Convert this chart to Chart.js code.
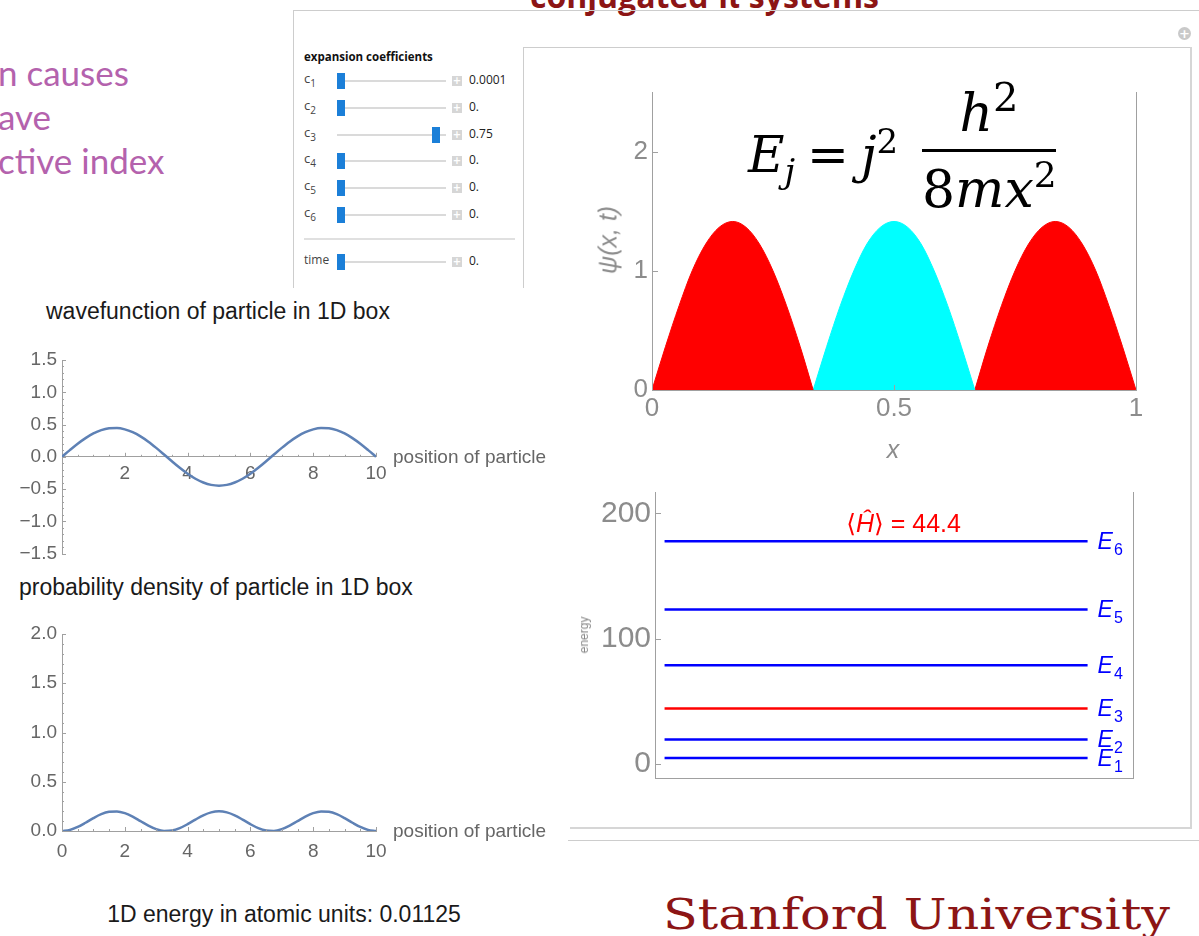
<!DOCTYPE html>
<html lang="en">
<head>
<meta charset="utf-8">
<title>Particle in a 1D box</title>
<script src="https://cdn.jsdelivr.net/npm/chart.js@4.4.1/dist/chart.umd.min.js"></script>
<style>
  html, body { margin: 0; padding: 0; background: #fff; }
  body { position: relative; width: 1199px; height: 936px; overflow: hidden;
         font-family: "Liberation Sans", Arial, sans-serif; }
  .t { position: absolute; white-space: nowrap; line-height: 1; }
  .rule { position: absolute; background: #cdcdcd; }
  canvas { position: absolute; }
  .ctl { position: absolute; font-family: "Open Sans", sans-serif; white-space: nowrap; line-height: 1; }
</style>
</head>
<body>

<!-- slide heading and side text -->
<div class="t" style="left:530px;top:-26px;font:700 32px 'Open Sans';color:#8c1515">conjugated π systems</div>
<div class="t" style="left:-2px;top:51px;font:35px Lato;color:#b462ad">n causes</div>
<div class="t" style="left:-2px;top:95px;font:35px Lato;color:#b462ad">ave</div>
<div class="t" style="left:-2px;top:139px;font:35px Lato;color:#b462ad">ctive index</div>

<!-- panel frames -->
<div class="rule" style="left:293px;top:10px;width:906px;height:1px"></div>
<div class="rule" style="left:293px;top:10px;width:1px;height:278px"></div>
<div class="rule" style="left:568px;top:840px;width:631px;height:1px"></div>
<div class="rule" style="left:523px;top:47px;width:668px;height:1px"></div>
<div class="rule" style="left:523px;top:47px;width:1px;height:241px"></div>
<div class="rule" style="left:1190px;top:47px;width:2px;height:782px;background:#d6d6d6"></div>
<div class="rule" style="left:570px;top:827px;width:622px;height:2px;background:#d6d6d6"></div>
<div class="t" style="left:1178px;top:27px;width:13px;height:13px;border-radius:50%;background:#c9c9c9;color:#fff;font:700 13px 'DejaVu Sans';text-align:center;line-height:13px">+</div>

<div class="ctl" style="left:304px;top:51px;font-size:11.5px;font-weight:700;color:#111">expansion coefficients</div>
<div class="rule" style="left:304px;top:238px;width:211px;height:2px;background:#e0e0e0"></div>

<!-- charts -->
<canvas id="waveChart" width="560" height="230" style="left:0;top:340px"></canvas>
<canvas id="densityChart" width="560" height="290" style="left:0;top:610px"></canvas>
<canvas id="boxChart" width="600" height="400" style="left:570px;top:70px"></canvas>
<canvas id="levelChart" width="620" height="330" style="left:570px;top:470px"></canvas>

<!-- chart titles and axis captions -->
<div class="t" style="left:46px;top:300px;font-size:23px;color:#1a1a1a">wavefunction of particle in 1D box</div>
<div class="t" style="left:393px;top:447px;font-size:19px;color:#666">position of particle</div>
<div class="t" style="left:19px;top:576px;font-size:23px;color:#1a1a1a">probability density of particle in 1D box</div>
<div class="t" style="left:393px;top:821px;font-size:19px;color:#666">position of particle</div>
<div class="t" style="left:84px;top:903px;width:400px;text-align:center;font-size:23px;color:#1a1a1a">1D energy in atomic units: 0.01125</div>

<div class="t" style="left:608px;top:240px;transform:translate(-50%,-50%) rotate(-90deg);font:italic 25px 'Liberation Sans';color:#8c8c8c">ψ(x, t)</div>
<div class="t" style="left:893px;top:449px;transform:translate(-50%,-50%);font:italic 25px 'Liberation Sans';color:#8c8c8c">x</div>
<div class="t" style="left:584px;top:635px;transform:translate(-50%,-50%) rotate(-90deg);font:12px 'Liberation Sans';color:#888">energy</div>

<!-- energy formula -->
<div class="t" style="left:748px;top:126px;font:50px 'DejaVu Serif';color:#000"><i>E</i><i style="font-size:34px;position:relative;top:11px">j</i><span style="margin:0 12px">=</span><i>j</i><span style="font-size:34px;position:relative;top:-19px">2</span></div>
<div class="t" style="left:922px;top:83px;width:134px;text-align:center;font:52px 'DejaVu Serif';color:#000"><i>h</i><span style="font-size:40px;position:relative;top:-20px">2</span></div>
<div class="rule" style="left:922px;top:149px;width:134px;height:3px;background:#000"></div>
<div class="t" style="left:922px;top:159px;width:134px;text-align:center;font:52px 'DejaVu Serif';color:#000">8<i>mx</i><span style="font-size:36px;position:relative;top:-20px">2</span></div>

<div class="t" style="left:663px;top:890px;font:42px 'DejaVu Serif';color:#8c1515;transform:scaleX(1.21);transform-origin:0 0">Stanford University</div>

<script>
// ---------------- data ----------------
// sample positions along the 10-bohr box
const positions = [0, 0.25, 0.5, 0.75, 1, 1.25, 1.5, 1.75, 2, 2.25, 2.5, 2.75, 3, 3.25, 3.5, 3.75,
  4, 4.25, 4.5, 4.75, 5, 5.25, 5.5, 5.75, 6, 6.25, 6.5, 6.75, 7, 7.25, 7.5, 7.75,
  8, 8.25, 8.5, 8.75, 9, 9.25, 9.5, 9.75, 10];
// wavefunction of the particle
const waveValues = [0, 0.104, 0.203, 0.290, 0.362, 0.413, 0.441, 0.446, 0.425, 0.381, 0.316, 0.234,
  0.138, 0.035, -0.070, -0.171, -0.263, -0.340, -0.398, -0.435, -0.447, -0.435, -0.398, -0.340,
  -0.263, -0.171, -0.070, 0.035, 0.138, 0.234, 0.316, 0.381, 0.425, 0.446, 0.441, 0.413, 0.362,
  0.290, 0.203, 0.104, 0];
// probability density of the particle
const densityValues = [0, 0.011, 0.041, 0.084, 0.131, 0.171, 0.195, 0.199, 0.181, 0.145, 0.100, 0.055,
  0.019, 0.001, 0.005, 0.029, 0.069, 0.116, 0.159, 0.189, 0.200, 0.189, 0.159, 0.116, 0.069,
  0.029, 0.005, 0.001, 0.019, 0.055, 0.100, 0.145, 0.181, 0.199, 0.195, 0.171, 0.131, 0.084,
  0.041, 0.011, 0];
const waveXTicks = [2, 4, 6, 8, 10];
const waveYTicks = [-1.5, -1, -0.5, 0, 0.5, 1, 1.5];
const densityXTicks = [0, 2, 4, 6, 8, 10];
const densityYTicks = [0, 0.5, 1, 1.5, 2];

// |psi(x,t)| on the unit box, coloured by phase
const boxX = [0, 0.028, 0.056, 0.083, 0.111, 0.139, 0.167, 0.194, 0.222, 0.25, 0.278, 0.306, 0.333,
  0.361, 0.389, 0.417, 0.444, 0.472, 0.5, 0.528, 0.556, 0.583, 0.611, 0.639, 0.667,
  0.694, 0.722, 0.75, 0.778, 0.806, 0.833, 0.861, 0.889, 0.917, 0.944, 0.972, 1];
const boxAbsPsi = [0, 0.366, 0.707, 1.0, 1.225, 1.366, 1.414, 1.366, 1.225, 1.0, 0.707, 0.366,
  0, 0.366, 0.707, 1.0, 1.225, 1.366, 1.414, 1.366, 1.225, 1.0, 0.707, 0.366,
  0, 0.366, 0.707, 1.0, 1.225, 1.366, 1.414, 1.366, 1.225, 1.0, 0.707, 0.366, 0];
const boxNodes = [0, 12, 24, 36];
const lobeColors = ['#ff0000', '#00ffff', '#ff0000'];
const boxXTicks = [0, 0.5, 1];
const boxYTicks = [0, 1, 2];

// energy levels E_j
const levelIndex = [1, 2, 3, 4, 5, 6];
const levelEnergies = [4.93, 19.74, 44.41, 78.96, 123.37, 177.65];
const levelSpan = [0.02, 0.905];
const occupiedLevel = 3;
const energyTicks = [0, 100, 200];

// expansion coefficient sliders
const coeffNames = ['1', '2', '3', '4', '5', '6'];
const coeffValues = [0.0001, 0, 0.75, 0, 0, 0];
const coeffText = ['0.0001', '0.', '0.75', '0.', '0.', '0.'];
const timeValue = 0;
const timeText = '0.';

// ---------------- helpers ----------------
Chart.defaults.font.family = '"Liberation Sans", Arial, sans-serif';
const FRAME = '#a0a0a0';

function steps(from, to, step, skip) {
  const out = [];
  const n = Math.round((to - from) / step);
  for (let i = 0; i <= n; i++) {
    const v = +(from + i * step).toFixed(6);
    if (!skip || !skip.some(s => Math.abs(s - v) < 1e-6)) out.push(v);
  }
  return out;
}
const useTicks = list => scale => { scale.ticks = list.map(v => ({ value: v })); };
const fixWidth = w => scale => { scale.width = w; };
const fixHeight = h => scale => { scale.height = h; };
const minusFmt = d => v => (v < 0 ? '\u2212' : '') + Math.abs(v).toFixed(d);
const NO_GRID = { display: false, drawTicks: false };

// tick marks drawn inward from the axes, plus an optional right frame edge
const axisMarks = {
  id: 'axisMarks',
  afterDatasetsDraw(chart, _args, opts) {
    const { ctx, chartArea: a } = chart;
    ctx.save();
    ctx.strokeStyle = opts.color || FRAME;
    ctx.lineWidth = 1;
    ctx.beginPath();
    for (const m of opts.marks || []) {
      const s = chart.scales[m.scale];
      for (const v of m.values) {
        const p = Math.round(s.getPixelForValue(v)) + 0.5;
        if (s.isHorizontal()) {
          const y0 = m.atY === undefined ? a.bottom : chart.scales.y.getPixelForValue(m.atY);
          ctx.moveTo(p, y0); ctx.lineTo(p, y0 - m.len);
        } else {
          ctx.moveTo(a.left, p); ctx.lineTo(a.left + m.len, p);
        }
      }
    }
    if (opts.rightEdge) {
      const x = Math.round(a.right) + 0.5;
      ctx.moveTo(x, a.top); ctx.lineTo(x, a.bottom);
    }
    ctx.stroke();
    ctx.restore();
  }
};

// E_j tags at the end of each level and the expectation value caption
const levelTags = {
  id: 'levelTags',
  afterDatasetsDraw(chart, _args, opts) {
    const ctx = chart.ctx;
    ctx.save();
    ctx.textBaseline = 'alphabetic';
    chart.data.datasets.forEach((ds, i) => {
      const pts = chart.getDatasetMeta(i).data;
      const end = pts[pts.length - 1];
      const x = end.x + 10;
      ctx.fillStyle = '#0000ff';
      ctx.font = 'italic 23px "Liberation Sans"';
      ctx.fillText('E', x, end.y + 8);
      const w = ctx.measureText('E').width;
      ctx.font = '16px "Liberation Sans"';
      ctx.fillText(String(levelIndex[i]), x + w + 1, end.y + 14);
    });
    // caption above the highest level
    const topPts = chart.getDatasetMeta(chart.data.datasets.length - 1).data;
    const cy = topPts[0].y - 9;
    const parts = [
      ['\u27E8', '25px "DejaVu Sans"'],
      ['\u0124', 'italic 25px "Liberation Sans"'],
      ['\u27E9', '25px "DejaVu Sans"'],
      [' = ' + opts.value.toFixed(1), '25px "Liberation Sans"']
    ];
    let total = 0;
    parts.forEach(([s, f]) => { ctx.font = f; total += ctx.measureText(s).width; });
    let x = chart.scales.x.getPixelForValue(opts.centerX) - total / 2;
    ctx.fillStyle = '#ff0000';
    parts.forEach(([s, f]) => { ctx.font = f; ctx.fillText(s, x, cy); x += ctx.measureText(s).width; });
    ctx.restore();
  }
};

const base = {
  responsive: false,
  animation: false,
  devicePixelRatio: 1,
  events: []
};

// ---------------- wavefunction ----------------
new Chart(document.getElementById('waveChart'), {
  type: 'line',
  data: {
    datasets: [{
      data: positions.map((x, i) => ({ x, y: waveValues[i] })),
      borderColor: '#5e81b5', borderWidth: 2.5, pointRadius: 0,
      cubicInterpolationMode: 'monotone'
    }]
  },
  plugins: [axisMarks],
  options: Object.assign({}, base, {
    layout: { padding: { left: 7, right: 184, top: 20, bottom: 16 } },
    plugins: {
      legend: { display: false }, tooltip: { enabled: false },
      axisMarks: {
        marks: [
          { scale: 'x', values: waveXTicks, len: 4, atY: 0 },
          { scale: 'x', values: steps(0.5, 9.5, 0.5, waveXTicks), len: 2, atY: 0 },
          { scale: 'y', values: waveYTicks, len: 4 },
          { scale: 'y', values: steps(-1.4, 1.4, 0.1, waveYTicks), len: 2 }
        ]
      }
    },
    scales: {
      x: {
        type: 'linear', min: 0, max: 10, position: { y: 0 },
        afterFit: fixHeight(0), afterBuildTicks: useTicks(waveXTicks),
        grid: NO_GRID,
        border: { color: FRAME },
        ticks: { color: '#666', font: { size: 19 }, padding: 6, autoSkip: false, maxRotation: 0 }
      },
      y: {
        min: -1.5, max: 1.5,
        afterFit: fixWidth(55), afterBuildTicks: useTicks(waveYTicks),
        grid: NO_GRID,
        border: { color: FRAME },
        ticks: { color: '#666', font: { size: 19 }, padding: 5, callback: minusFmt(1) }
      }
    }
  })
});

// ---------------- probability density ----------------
new Chart(document.getElementById('densityChart'), {
  type: 'line',
  data: {
    datasets: [{
      data: positions.map((x, i) => ({ x, y: densityValues[i] })),
      borderColor: '#5e81b5', borderWidth: 2.5, pointRadius: 0,
      cubicInterpolationMode: 'monotone'
    }]
  },
  plugins: [axisMarks],
  options: Object.assign({}, base, {
    layout: { padding: { left: 7, right: 184, top: 24, bottom: 19 } },
    plugins: {
      legend: { display: false }, tooltip: { enabled: false },
      axisMarks: {
        marks: [
          { scale: 'x', values: densityXTicks, len: 4 },
          { scale: 'x', values: steps(0.5, 9.5, 0.5, densityXTicks), len: 2 },
          { scale: 'y', values: densityYTicks, len: 4 },
          { scale: 'y', values: steps(0.1, 1.9, 0.1, densityYTicks), len: 2 }
        ]
      }
    },
    scales: {
      x: {
        type: 'linear', min: 0, max: 10,
        afterFit: fixHeight(50), afterBuildTicks: useTicks(densityXTicks),
        grid: NO_GRID,
        border: { color: FRAME },
        ticks: { color: '#666', font: { size: 19 }, padding: 9, autoSkip: false, maxRotation: 0 }
      },
      y: {
        min: 0, max: 2,
        afterFit: fixWidth(55), afterBuildTicks: useTicks(densityYTicks),
        grid: NO_GRID,
        border: { color: FRAME },
        ticks: { color: '#666', font: { size: 19 }, padding: 5, callback: minusFmt(1) }
      }
    }
  })
});

// ---------------- |psi| with phase colouring ----------------
const lobes = lobeColors.map((color, k) => {
  const pts = [];
  for (let i = boxNodes[k]; i <= boxNodes[k + 1]; i++) pts.push({ x: boxX[i], y: boxAbsPsi[i] });
  return {
    data: pts, fill: 'origin', backgroundColor: color, borderColor: color,
    borderWidth: 1, pointRadius: 0, cubicInterpolationMode: 'monotone'
  };
});
new Chart(document.getElementById('boxChart'), {
  type: 'line',
  data: { datasets: lobes },
  plugins: [axisMarks],
  options: Object.assign({}, base, {
    layout: { padding: { left: 42, right: 34, top: 22, bottom: 40 } },
    plugins: {
      legend: { display: false }, tooltip: { enabled: false }, filler: { propagate: false },
      axisMarks: {
        rightEdge: true,
        marks: [
          { scale: 'x', values: boxXTicks, len: 5 },
          { scale: 'y', values: boxYTicks, len: 6 }
        ]
      }
    },
    scales: {
      x: {
        type: 'linear', min: 0, max: 1, z: 1,
        afterFit: fixHeight(40), afterBuildTicks: useTicks(boxXTicks),
        grid: NO_GRID,
        border: { color: FRAME },
        ticks: { color: '#8c8c8c', font: { size: 26 }, padding: 3, autoSkip: false, maxRotation: 0,
                 callback: v => String(v) }
      },
      y: {
        min: 0, max: 2.5, z: 1,
        afterFit: fixWidth(40), afterBuildTicks: useTicks(boxYTicks),
        grid: NO_GRID,
        border: { color: FRAME },
        ticks: { color: '#8c8c8c', font: { size: 26 }, padding: 4, callback: v => String(v) }
      }
    }
  })
});

// ---------------- energy levels ----------------
new Chart(document.getElementById('levelChart'), {
  type: 'line',
  data: {
    datasets: levelEnergies.map((e, i) => ({
      data: [{ x: levelSpan[0], y: e }, { x: levelSpan[1], y: e }],
      borderColor: levelIndex[i] === occupiedLevel ? '#ff0000' : '#0000ff',
      borderWidth: 2.5, pointRadius: 0
    }))
  },
  plugins: [axisMarks, levelTags],
  options: Object.assign({}, base, {
    layout: { padding: { left: 5, right: 57, top: 18, bottom: 19 } },
    plugins: {
      legend: { display: false }, tooltip: { enabled: false },
      axisMarks: {
        rightEdge: true,
        marks: [{ scale: 'y', values: energyTicks, len: 6 }]
      },
      levelTags: { value: levelEnergies[occupiedLevel - 1], centerX: 0.52 }
    },
    scales: {
      x: {
        type: 'linear', min: 0, max: 1,
        afterFit: fixHeight(0),
        grid: NO_GRID,
        border: { color: FRAME },
        ticks: { display: false }
      },
      y: {
        min: -11, max: 217,
        afterFit: fixWidth(80), afterBuildTicks: useTicks(energyTicks),
        grid: NO_GRID,
        border: { color: FRAME },
        ticks: { color: '#8c8c8c', font: { size: 30 }, padding: 4 }
      }
    }
  })
});

// ---------------- slider controls ----------------
const SLIDER_MAX = 0.8;
function addDiv(style, html, cls) {
  const d = document.createElement('div');
  d.className = cls || 'ctl';
  d.setAttribute('style', style);
  if (html !== undefined) d.innerHTML = html;
  document.body.appendChild(d);
  return d;
}
function addSlider(y, labelHtml, value, text) {
  addDiv(`left:304px;top:${y - 9}px;font-size:13px;color:#444`, labelHtml);
  addDiv(`left:337px;top:${y - 1}px;width:109px;height:2px;background:#dadada`, '', 'rule');
  addDiv(`left:${337 + Math.round(value / SLIDER_MAX * 101)}px;top:${y - 8}px;width:8px;height:16px;background:#1b7fd8`, '', 'rule');
  addDiv(`left:452px;top:${y - 5}px;width:10px;height:10px;background:#d6d6d6;color:#fff;font:700 10px 'DejaVu Sans';text-align:center;line-height:10px`, '+');
  addDiv(`left:469px;top:${y - 7}px;font-size:12px;color:#222`, text);
}
coeffValues.forEach((c, i) => {
  const y = Math.round(81 + i * 26.8);
  addSlider(y, `c<span style="font-size:10px;position:relative;top:4px">${coeffNames[i]}</span>`, c, coeffText[i]);
});
addSlider(262, '<span style="font-size:12px">time</span>', timeValue, timeText);
</script>
</body>
</html>
